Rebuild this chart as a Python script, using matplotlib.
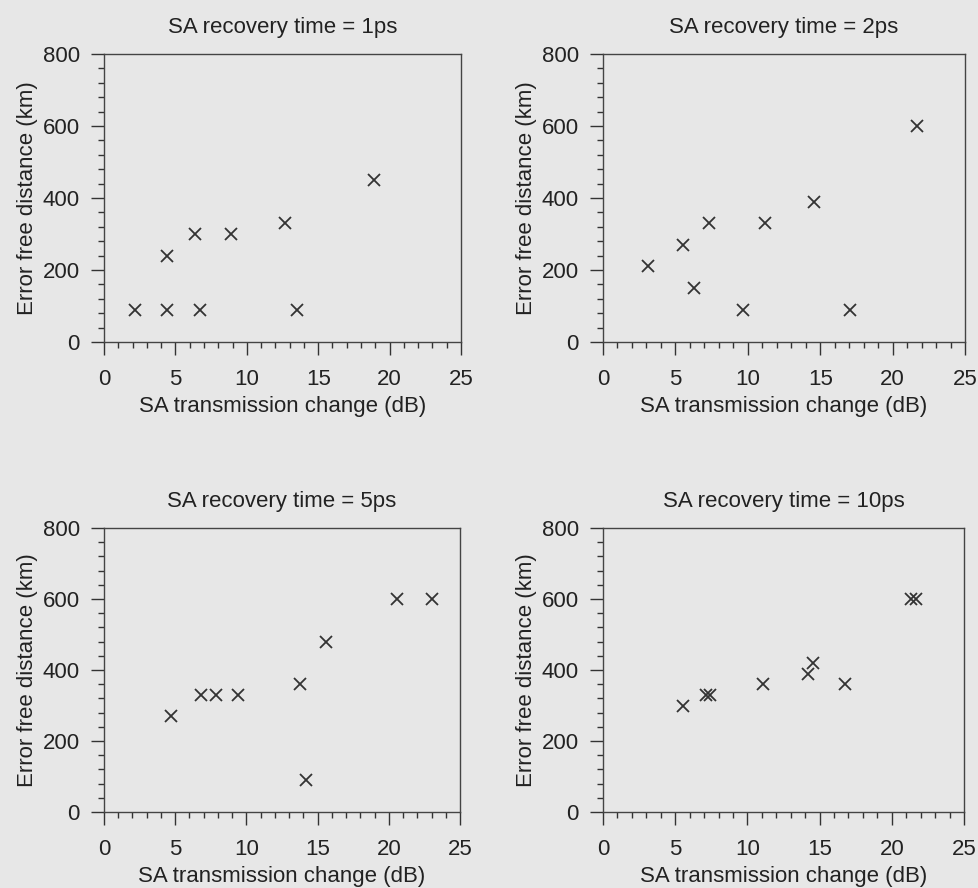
import matplotlib
matplotlib.use("Agg")
import matplotlib.pyplot as plt
from matplotlib.ticker import MultipleLocator

plt.rcParams['font.family'] = ['Liberation Sans', 'DejaVu Sans']

titles = ["SA recovery time = 1ps", "SA recovery time = 2ps",
          "SA recovery time = 5ps", "SA recovery time = 10ps"]

x_1ps = [2.15, 4.4, 6.75, 4.4, 6.35, 8.9, 12.7, 13.5, 18.9]
y_1ps = [90, 90, 90, 240, 300, 300, 330, 90, 450]

x_2ps = [3.1, 5.5, 6.3, 7.3, 9.7, 11.2, 14.6, 17.05, 21.7]
y_2ps = [210, 270, 150, 330, 90, 330, 390, 90, 600]

x_5ps = [4.7, 6.8, 7.85, 9.4, 13.75, 14.2, 15.6, 20.55, 23.0]
y_5ps = [270, 330, 330, 330, 360, 90, 480, 600, 600]

x_10ps = [5.55, 7.1, 7.4, 11.1, 14.2, 14.55, 16.75, 21.3, 21.7]
y_10ps = [300, 330, 330, 360, 390, 420, 360, 600, 600]

xs = [x_1ps, x_2ps, x_5ps, x_10ps]
ys = [y_1ps, y_2ps, y_5ps, y_10ps]

W, H = 979, 888
bg = '#e7e7e7'
fig = plt.figure(figsize=(W / 100, H / 100), dpi=100, facecolor=bg)

# axes boxes in pixels: left, right, top, bottom
boxes = [(104, 461, 54, 342), (603, 965, 54, 342),
         (104, 460, 528, 812), (603, 964, 528, 812)]

for i, (l, r, t, b) in enumerate(boxes):
    ax = fig.add_axes([l / W, 1 - b / H, (r - l) / W, (b - t) / H])
    ax.set_facecolor(bg)
    ax.plot(xs[i], ys[i], linestyle='none', marker='x', markersize=8,
            markeredgewidth=1.3, color='#333333')
    ax.set_xlim(0, 25)
    ax.set_ylim(0, 800)
    ax.xaxis.set_major_locator(MultipleLocator(5))
    ax.xaxis.set_minor_locator(MultipleLocator(1))
    ax.yaxis.set_major_locator(MultipleLocator(200))
    ax.yaxis.set_minor_locator(MultipleLocator(40))
    ax.tick_params(which='major', direction='out', length=9.5, width=1.0,
                   color='#333333', labelsize=16, pad=8, labelcolor='#222222')
    ax.tick_params(axis='x', which='major', pad=10)
    ax.tick_params(which='minor', direction='out', length=4, width=1.0,
                   color='#333333')
    for s in ax.spines.values():
        s.set_color('#444444')
        s.set_linewidth(1.0)
    ax.set_title(titles[i], fontsize=16, pad=15, color='#222222')
    ax.set_xlabel("SA transmission change (dB)", fontsize=16, labelpad=4.5,
                  color='#222222')
    ax.set_ylabel("Error free distance (km)", fontsize=16, labelpad=3,
                  color='#222222')

fig.savefig("out.png", dpi=100, facecolor=bg)
